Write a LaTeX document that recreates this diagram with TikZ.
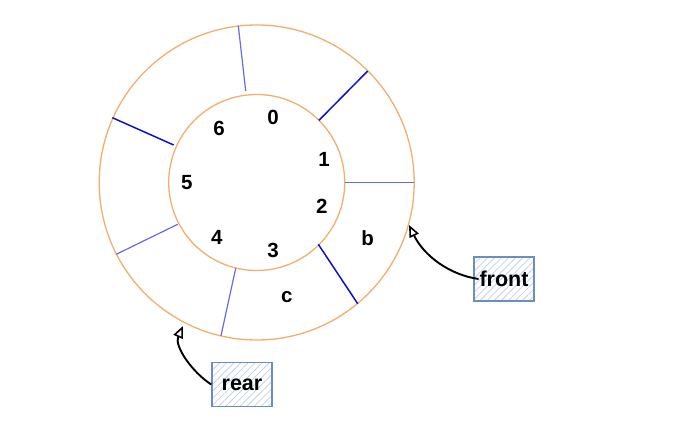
\documentclass[tikz,border=0pt]{standalone}
\usepackage{fontspec}
\setmainfont{Liberation Sans}
\usetikzlibrary{arrows.meta,patterns.meta}
\definecolor{ringc}{HTML}{F2AE6C}
\definecolor{spokedark}{HTML}{1010C8}
\definecolor{spokelight}{HTML}{6A6AE0}
\definecolor{boxline}{HTML}{6C8EBF}
\definecolor{hatch}{HTML}{C4D2E8}
\tikzset{
  ring/.style={draw=ringc, line width=1.3pt},
  darkspoke/.style={draw=spokedark, line width=1.5pt},
  lightspoke/.style={draw=spokelight, line width=1.2pt},
  lbl/.style={font=\fontsize{20.5}{24}\selectfont\bfseries, inner sep=0pt},
  ptrbox/.style={draw=boxline, line width=1.5pt, minimum width=60pt, minimum height=44pt,
    pattern={Lines[angle=45,distance=5pt,line width=0.8pt]}, pattern color=hatch,
    font=\fontsize{21.5}{25}\selectfont\bfseries, inner sep=0pt},
  ptr/.style={line width=1.9pt, -{Triangle[open,length=12pt,width=10pt,line width=1.6pt]}}
}
\begin{document}
\begin{tikzpicture}[x=1pt,y=-1pt]
\useasboundingbox (0,0) rectangle (693,427);
\coordinate (c) at (256.7,182.5);
\draw[ring] (c) circle[radius=157.5];
\draw[ring] (c) circle[radius=88];
% spokes
\draw[lightspoke] (245.7,91) -- (238.3,25.7);
\draw[darkspoke] (319,120.3) -- (367.7,71);
\draw[lightspoke] (345,182.3) -- (414,182.3);
\draw[darkspoke] (318.3,244.3) -- (357.7,303.7);
\draw[lightspoke] (235.7,268.3) -- (221,335.7);
\draw[lightspoke] (177.7,224.3) -- (116.3,254.3);
\draw[darkspoke] (173.7,145) -- (112.3,117.7);
% labels
\node[lbl] (l0) at (273,117) {0};
\node[lbl] (l1) at (324,159) {1};
\node[lbl] (l2) at (321.7,206.7) {2};
\node[lbl] (l3) at (273,250) {3};
\node[lbl] (l4) at (216.7,237.7) {4};
\node[lbl] (l5) at (186.7,183) {5};
\node[lbl] (l6) at (219,128) {6};
\node[lbl] (lb) at (367.7,237.7) {b};
\node[lbl] (lc) at (286.7,296.7) {c};
% pointer boxes
\node[ptrbox] (front) at (504,279) {front};
\node[ptrbox] (rear) at (242,384.5) {rear};
\coordinate (fronttip) at (409,225);
\coordinate (reartip) at (183,326);
\draw[ptr] (front.west) ++(5pt,0) .. controls (450,275) and (424,256) .. (fronttip);
\draw[ptr] (rear.west) .. controls (192,372) and (174,346) .. (reartip);
\end{tikzpicture}
\end{document}
